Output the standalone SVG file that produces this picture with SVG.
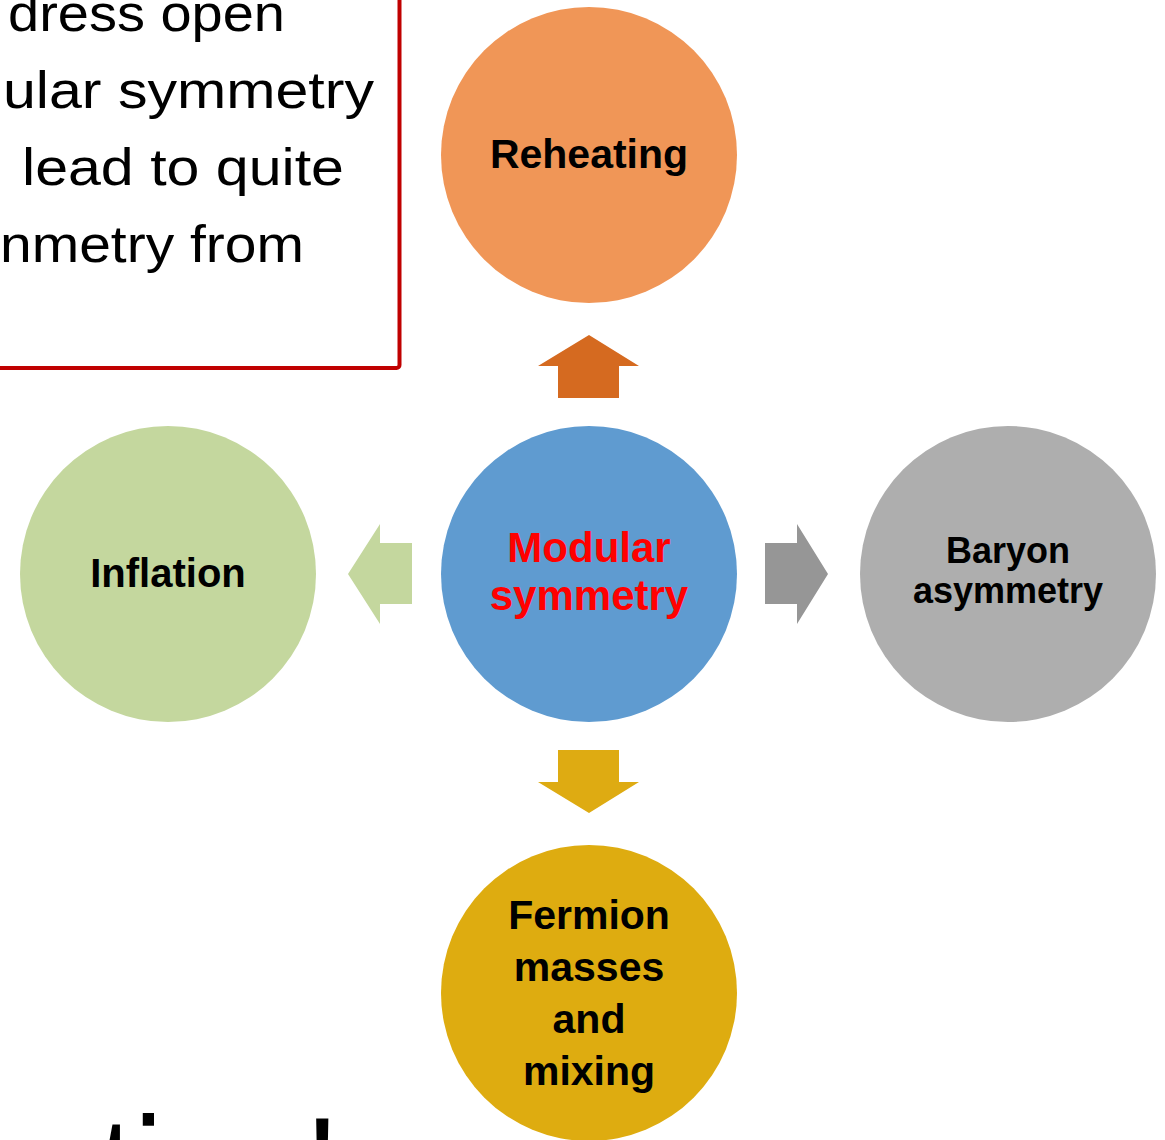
<svg xmlns="http://www.w3.org/2000/svg" width="1165" height="1140" viewBox="0 0 1165 1140">
<style>
.box{font-family:"Liberation Sans",Arial,sans-serif;font-size:52px;fill:#000}
.lbl{font-family:"Liberation Sans",Arial,sans-serif;font-weight:bold;fill:#000;text-anchor:middle}
.big{font-family:"Liberation Sans",Arial,sans-serif;font-size:150px;fill:#000}
</style>
<rect width="1165" height="1140" fill="#fff"/>
<g id="textbox">
<rect x="-20" y="-20" width="419.5" height="388" rx="3" fill="#fff" stroke="#C00000" stroke-width="4"/>
<text class="box" x="8" y="31" textLength="277" lengthAdjust="spacingAndGlyphs">dress open</text>
<text class="box" x="3" y="108" textLength="371" lengthAdjust="spacingAndGlyphs">ular symmetry</text>
<text class="box" x="22" y="185" textLength="322" lengthAdjust="spacingAndGlyphs">lead to quite</text>
<text class="box" x="0" y="262" textLength="304" lengthAdjust="spacingAndGlyphs">nmetry from</text>
</g>
<g id="bottom-text">
<text class="big" x="28" y="1222" textLength="312" lengthAdjust="spacingAndGlyphs">ation!</text>
</g>
<g id="connectors">
<polygon id="arrow-up" points="589,335 639,366 619,366 619,398 558,398 558,366 538,366" fill="#D56A20"/>
<polygon id="arrow-left" points="348,574 380,524 380,543 412,543 412,604 380,604 380,624" fill="#C4D79E"/>
<polygon id="arrow-right" points="828,574 797,524 797,543 765,543 765,604 797,604 797,624" fill="#969696"/>
<polygon id="arrow-down" points="589,813 639,782 619,782 619,750 558,750 558,782 538,782" fill="#DEAB12"/>
</g>
<g id="node-reheating">
<circle cx="589" cy="155" r="148" fill="#F09657"/>
<text class="lbl" x="589" y="168" font-size="41">Reheating</text>
</g>
<g id="node-modular">
<circle cx="589" cy="574" r="148" fill="#5F9BD0"/>
<text class="lbl" x="589" y="562" font-size="42" style="fill:#FF0000">Modular</text>
<text class="lbl" x="589" y="610" font-size="42" style="fill:#FF0000">symmetry</text>
</g>
<g id="node-inflation">
<circle cx="168" cy="574" r="148" fill="#C4D79E"/>
<text class="lbl" x="168" y="587" font-size="40">Inflation</text>
</g>
<g id="node-baryon">
<circle cx="1008" cy="574" r="148" fill="#AEAEAE"/>
<text class="lbl" x="1008" y="563" font-size="36">Baryon</text>
<text class="lbl" x="1008" y="603" font-size="36">asymmetry</text>
</g>
<g id="node-fermion">
<circle cx="589" cy="993" r="148" fill="#DEAC10"/>
<text class="lbl" x="589" y="929" font-size="41">Fermion</text>
<text class="lbl" x="589" y="981" font-size="41">masses</text>
<text class="lbl" x="589" y="1033" font-size="41">and</text>
<text class="lbl" x="589" y="1085" font-size="41">mixing</text>
</g>
</svg>
